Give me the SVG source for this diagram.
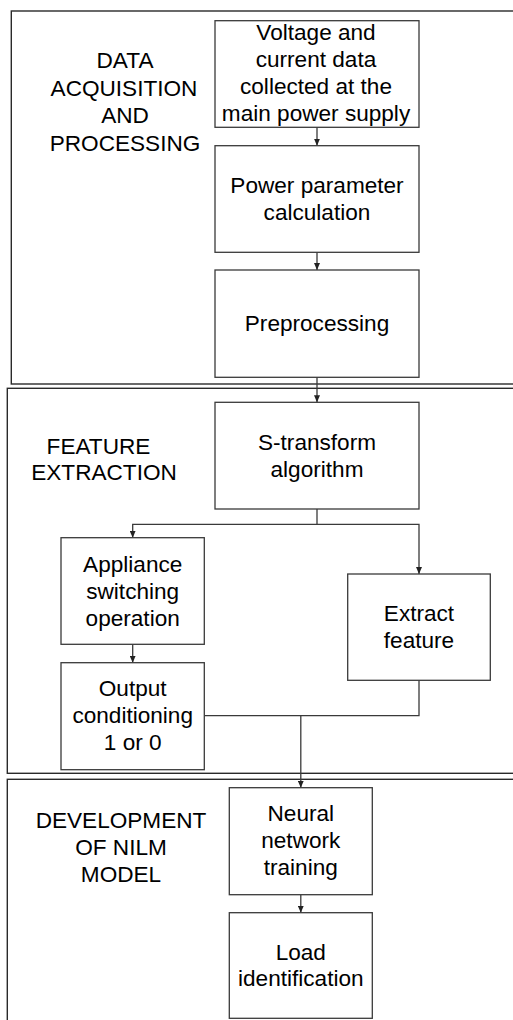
<svg xmlns="http://www.w3.org/2000/svg" width="513" height="1020" viewBox="0 0 513 1020">
  <style>
    .stage { fill: none; stroke: #2a2a2a; stroke-width: 1.4; }
    .box { fill: #ffffff; stroke: #3a3a3a; stroke-width: 1.3; }
    .wire { fill: none; stroke: #3a3a3a; stroke-width: 1.3; }
    text { font-family: "Liberation Sans", Arial, sans-serif; font-size: 22.6px; fill: #000; text-anchor: middle; }
  </style>
  <defs>
    <marker id="arrow" viewBox="0 0 10 10" refX="10" refY="5" markerWidth="7" markerHeight="6" orient="auto" markerUnits="userSpaceOnUse" preserveAspectRatio="none">
      <path d="M0,0 L10,5 L0,10 Z" fill="#222"/>
    </marker>
  </defs>
  <rect width="513" height="1020" fill="#ffffff"/>

  <!-- stage frames -->
  <g id="stage-acquisition">
    <rect class="stage" x="11.3" y="11" width="520" height="373"/>
    <text x="125" y="68">DATA</text>
    <text x="124" y="95.5">ACQUISITION</text>
    <text x="125" y="123">AND</text>
    <text x="125" y="150.5">PROCESSING</text>
  </g>
  <g id="stage-feature">
    <rect class="stage" x="7.3" y="388.3" width="520" height="385"/>
    <text x="98.5" y="453.5">FEATURE</text>
    <text x="104" y="480">EXTRACTION</text>
  </g>
  <g id="stage-model">
    <rect class="stage" x="7.3" y="779.3" width="520" height="260"/>
    <text x="121" y="827.5">DEVELOPMENT</text>
    <text x="121" y="854.5">OF NILM</text>
    <text x="121" y="881.5">MODEL</text>
  </g>

  <!-- connectors -->
  <g id="connectors">
    <path class="wire" d="M317,127.3 V145.7" marker-end="url(#arrow)"/>
    <path class="wire" d="M317,252.3 V270" marker-end="url(#arrow)"/>
    <path class="wire" d="M317,377.3 V402.3" marker-end="url(#arrow)"/>
    <path class="wire" d="M317,509 V524.3"/>
    <path class="wire" d="M317,524.3 H132.7 V537.7" marker-end="url(#arrow)"/>
    <path class="wire" d="M317,524.3 H419 V574" marker-end="url(#arrow)"/>
    <path class="wire" d="M132.7,644.3 V662.7" marker-end="url(#arrow)"/>
    <path class="wire" d="M204.3,715.7 H419 V680.3"/>
    <path class="wire" d="M300.8,715.7 V787.7" marker-end="url(#arrow)"/>
    <path class="wire" d="M300.8,894.7 V912.7" marker-end="url(#arrow)"/>
  </g>

  <!-- process nodes -->
  <g id="node-voltage">
    <rect class="box" x="215" y="20.7" width="204" height="106.6"/>
    <text x="316" y="40">Voltage and</text>
    <text x="316" y="67">current data</text>
    <text x="316" y="94">collected at the</text>
    <text x="316" y="121">main power supply</text>
  </g>
  <g id="node-power">
    <rect class="box" x="215" y="145.7" width="204" height="106.6"/>
    <text x="317" y="193">Power parameter</text>
    <text x="317" y="220">calculation</text>
  </g>
  <g id="node-preprocessing">
    <rect class="box" x="215" y="270" width="204" height="107.3"/>
    <text x="317" y="331">Preprocessing</text>
  </g>
  <g id="node-stransform">
    <rect class="box" x="215" y="402.3" width="204" height="106.7"/>
    <text x="317" y="450">S-transform</text>
    <text x="317" y="477">algorithm</text>
  </g>
  <g id="node-appliance">
    <rect class="box" x="61" y="537.7" width="143.3" height="106.6"/>
    <text x="132.7" y="571.5">Appliance</text>
    <text x="132.7" y="598.5">switching</text>
    <text x="132.7" y="625.5">operation</text>
  </g>
  <g id="node-extract">
    <rect class="box" x="347.7" y="574" width="142.6" height="106.3"/>
    <text x="419" y="621">Extract</text>
    <text x="419" y="648">feature</text>
  </g>
  <g id="node-output">
    <rect class="box" x="61" y="662.7" width="143.3" height="107"/>
    <text x="132.7" y="696">Output</text>
    <text x="132.7" y="723">conditioning</text>
    <text x="132.7" y="750">1 or 0</text>
  </g>
  <g id="node-neural">
    <rect class="box" x="229.3" y="787.7" width="143" height="107"/>
    <text x="300.8" y="821">Neural</text>
    <text x="300.8" y="848">network</text>
    <text x="300.8" y="875">training</text>
  </g>
  <g id="node-load">
    <rect class="box" x="229.3" y="912.7" width="143" height="105.6"/>
    <text x="300.8" y="959.5">Load</text>
    <text x="300.8" y="986">identification</text>
  </g>
</svg>
